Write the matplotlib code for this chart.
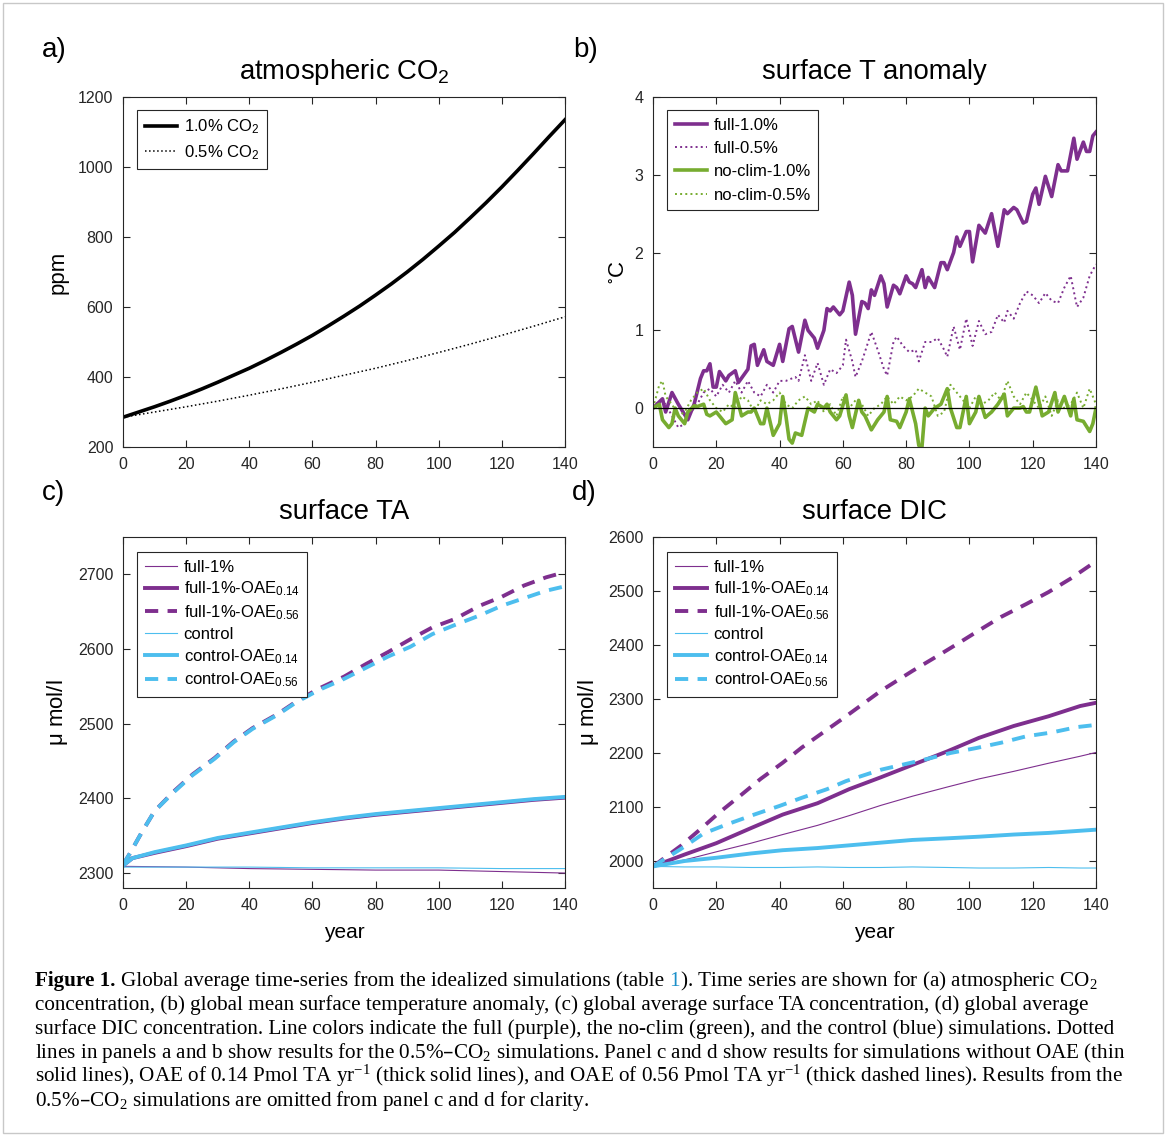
import matplotlib
matplotlib.use("Agg")
import matplotlib.pyplot as plt
from matplotlib.patches import Rectangle

plt.rcParams['font.family'] = ['Liberation Sans', 'DejaVu Sans']
plt.rcParams['mathtext.default'] = 'regular'

purple = '#7E2F8E'
green = '#77AC30'
blue = '#4DBEEE'
axcol = '#262626'

# ---- panel a: atmospheric CO2 (ppm) ----
co2_years = [0, 5, 10, 15, 20, 25, 30, 35, 40, 45, 50, 55, 60, 65, 70, 75, 80, 85, 90, 95,
             100, 105, 110, 115, 120, 125, 130, 135, 140]
co2_1pct = [285, 300, 315, 331, 348, 366, 385, 405, 425, 447, 470, 494, 519, 546, 574, 603,
            634, 666, 700, 736, 774, 813, 855, 898, 943, 990, 1038, 1087, 1135]
co2_half_years = [0, 10, 20, 30, 40, 50, 60, 70, 80, 90, 100, 110, 120, 130, 140]
co2_half = [285, 300, 315, 331, 348, 366, 385, 405, 425, 447, 470, 494, 519, 545, 572]

# ---- panel b: surface T anomaly (year, degC) ----
t_full10 = [(0, 0), (3, 0.12), (4, -0.05), (6, 0.2), (8, 0.05), (11, -0.15), (13, 0.05),
            (15, 0.38), (16, 0.48), (17, 0.48), (18, 0.57), (19, 0.27), (20, 0.27), (21, 0.47),
            (23, 0.35), (24, 0.42), (26, 0.48), (27, 0.33), (30, 0.5), (31, 0.8), (32, 0.82),
            (33, 0.55), (35, 0.75), (36, 0.6), (38, 0.55), (40, 0.82), (41, 0.6), (43, 1.02),
            (44, 1.05), (46, 0.72), (48, 1.13), (49, 1.0), (51, 0.9), (52, 0.77), (54, 1.0),
            (55, 1.28), (56, 1.25), (57, 1.3), (59, 1.2), (60, 1.25), (62, 1.62), (63, 1.45),
            (64, 0.95), (66, 1.37), (67, 1.35), (68, 1.28), (69, 1.52), (70, 1.45), (72, 1.7),
            (73, 1.6), (74, 1.3), (76, 1.58), (77, 1.55), (78, 1.47), (80, 1.7), (81, 1.62),
            (82, 1.6), (83, 1.55), (85, 1.78), (86, 1.55), (87, 1.68), (89, 1.55), (91, 1.87),
            (92, 1.87), (93, 1.78), (95, 2.0), (96, 2.2), (97, 2.08), (99, 2.27), (100, 2.27),
            (101, 1.88), (103, 2.35), (104, 2.3), (105, 2.25), (107, 2.5), (109, 2.08),
            (111, 2.55), (112, 2.5), (114, 2.58), (115, 2.55), (117, 2.38), (118, 2.4),
            (120, 2.75), (121, 2.83), (122, 2.62), (124, 2.98), (126, 2.72), (128, 3.13),
            (129, 3.05), (131, 3.05), (133, 3.47), (134, 3.2), (136, 3.42), (137, 3.3),
            (138, 3.3), (139, 3.5), (140, 3.55)]
t_full05 = [(0, 0), (2, 0.1), (4, 0.05), (6, -0.1), (8, -0.25), (10, -0.2), (12, -0.05),
            (14, 0.05), (16, 0.2), (18, 0.25), (20, 0.15), (22, 0.3), (24, 0.2), (26, 0.35),
            (28, 0.2), (30, 0.35), (32, 0.2), (34, 0.15), (36, 0.3), (38, 0.2), (40, 0.35),
            (42, 0.35), (45, 0.4), (46, 0.35), (48, 0.68), (50, 0.35), (52, 0.58), (54, 0.3),
            (56, 0.5), (58, 0.45), (60, 0.55), (61, 0.88), (63, 0.6), (64, 0.4), (66, 0.6),
            (68, 0.85), (69, 0.98), (71, 0.75), (73, 0.5), (74, 0.42), (76, 0.85), (77, 0.92),
            (79, 0.8), (81, 0.72), (83, 0.75), (84, 0.6), (86, 0.85), (88, 0.85), (90, 0.9),
            (92, 0.75), (93, 0.66), (95, 1.05), (97, 0.75), (99, 1.15), (101, 0.8), (103, 1.12),
            (105, 0.95), (107, 0.98), (109, 1.2), (111, 1.1), (112, 1.25), (114, 1.15),
            (115, 1.25), (116, 1.35), (118, 1.5), (120, 1.45), (122, 1.35), (124, 1.48),
            (126, 1.38), (128, 1.35), (130, 1.55), (132, 1.7), (134, 1.3), (136, 1.42),
            (138, 1.7), (140, 1.85)]
t_noclim10 = [(0, 0), (2, 0.05), (3, -0.15), (5, -0.25), (6, -0.2), (7, 0.0), (8, -0.1),
              (10, -0.2), (11, -0.05), (13, 0.03), (14, 0.02), (16, 0.05), (17, -0.08),
              (18, -0.1), (20, -0.05), (21, -0.1), (23, -0.2), (25, -0.15), (26, 0.2),
              (28, -0.1), (30, -0.05), (31, -0.05), (32, 0.0), (34, -0.2), (35, -0.2),
              (36, 0.0), (38, -0.35), (40, -0.2), (41, 0.15), (42, -0.1), (43, -0.4),
              (44, -0.45), (45, -0.32), (47, -0.35), (49, 0.0), (51, -0.05), (52, 0.05),
              (54, 0.0), (55, 0.05), (56, -0.05), (58, -0.15), (59, -0.1), (61, 0.17),
              (62, -0.1), (63, -0.25), (65, 0.1), (66, -0.05), (67, -0.1), (69, -0.28),
              (71, -0.15), (73, -0.05), (74, 0.15), (75, -0.15), (77, -0.17), (78, -0.25),
              (80, -0.05), (81, 0.12), (83, -0.2), (84, -0.48), (85, -0.5), (86, 0.0),
              (87, -0.1), (89, 0.0), (91, 0.05), (93, 0.25), (94, 0.0), (96, -0.25),
              (97, -0.25), (99, 0.15), (100, -0.2), (102, -0.05), (103, 0.15), (105, -0.12),
              (107, -0.05), (109, 0.05), (111, 0.18), (112, -0.1), (114, 0.0), (116, 0.0),
              (117, 0.02), (118, -0.05), (119, -0.05), (121, 0.27), (123, -0.1), (125, -0.05),
              (127, 0.2), (128, -0.05), (130, 0.15), (132, -0.1), (133, 0.12), (134, -0.15),
              (136, -0.17), (138, -0.3), (139, -0.2), (140, 0.0)]
t_noclim05 = [(0, 0), (2, 0.3), (3, 0.35), (4, 0.15), (6, 0.05), (8, -0.1), (10, -0.05),
              (12, 0.1), (14, 0.2), (16, 0.25), (18, 0.1), (20, 0.0), (22, -0.05), (24, 0.05),
              (26, 0.0), (28, 0.15), (30, 0.1), (32, -0.05), (34, 0.1), (36, 0.05), (38, 0.1),
              (40, 0.2), (42, 0.05), (44, 0.0), (46, 0.1), (48, 0.15), (50, 0.05), (52, 0.1),
              (54, -0.05), (56, 0.05), (58, -0.1), (60, 0.15), (62, 0.0), (64, 0.1), (66, 0.05),
              (68, -0.1), (70, 0.0), (72, 0.05), (74, 0.15), (76, 0.05), (78, 0.15), (80, 0.1),
              (82, 0.15), (84, 0.25), (86, 0.2), (88, 0.15), (90, -0.1), (92, -0.05), (94, 0.3),
              (96, 0.2), (98, 0.1), (100, 0.0), (102, 0.15), (104, 0.05), (106, 0.1), (108, 0.2),
              (110, 0.1), (112, 0.35), (114, 0.15), (116, 0.05), (118, 0.2), (120, 0.1),
              (122, 0.0), (124, 0.15), (126, -0.1), (128, 0.1), (130, 0.0), (132, 0.05),
              (134, 0.2), (136, 0.0), (138, 0.25), (140, 0.05)]

# ---- panel c: surface TA (umol/l) ----
ta_dash_years = [0, 2, 6, 10, 16, 22, 29, 35, 41, 49, 55, 62, 70, 77, 84, 91, 98, 105, 113, 120, 127, 134, 140]
ta_full_056 = [2311, 2325, 2355, 2383, 2409, 2432, 2454, 2476, 2494, 2513, 2530, 2547, 2563,
               2580, 2596, 2613, 2629, 2640, 2658, 2670, 2685, 2696, 2703]
ta_ctrl_056 = [2311, 2325, 2355, 2383, 2408, 2431, 2453, 2475, 2493, 2512, 2529, 2545, 2560,
               2575, 2590, 2603, 2620, 2632, 2645, 2658, 2668, 2678, 2684]
ta_years = [0, 3, 10, 20, 30, 40, 50, 60, 70, 80, 90, 100, 110, 120, 130, 140]
ta_full_014 = [2310, 2320, 2327, 2336, 2346, 2353, 2360, 2367, 2373, 2378, 2382, 2386, 2390, 2394, 2398, 2401]
ta_ctrl_014 = [2310, 2320, 2328, 2337, 2347, 2354, 2361, 2368, 2374, 2379, 2383, 2387, 2391, 2395, 2399, 2402]
ta_thin_years = [0, 20, 40, 60, 80, 100, 120, 140]
ta_full = [2309, 2308, 2306, 2305, 2304, 2304, 2302, 2300]
ta_ctrl = [2308, 2308, 2308, 2307, 2307, 2307, 2306, 2306]

# ---- panel d: surface DIC (umol/l) ----
dic_dash_years = [0, 9, 15, 21, 28, 34, 41, 47, 54, 61, 72, 82, 90, 97, 103, 110, 118, 125, 132, 139, 140]
dic_full_056 = [1990, 2029, 2059, 2090, 2123, 2152, 2182, 2210, 2239, 2268, 2315, 2352, 2380,
                2405, 2427, 2452, 2476, 2498, 2523, 2551, 2556]
dic_ctrl_dash_years = [0, 9, 16, 23, 32, 40, 47, 55, 61, 72, 86, 94, 102, 110, 118, 126, 134, 140]
dic_ctrl_056 = [1990, 2023, 2051, 2067, 2086, 2102, 2117, 2133, 2148, 2169, 2188, 2200, 2209,
                2219, 2231, 2238, 2248, 2252]
dic_years = [0, 10, 20, 31, 41, 52, 62, 72, 82, 93, 103, 114, 125, 135, 140]
dic_full_014 = [1990, 2012, 2033, 2061, 2086, 2107, 2133, 2155, 2178, 2203, 2228, 2250, 2268, 2287, 2293]
dic_full = [1990, 2002, 2017, 2033, 2049, 2066, 2084, 2103, 2120, 2137, 2152, 2166, 2181, 2194, 2201]
dic_ctrl_014 = [1990, 2000, 2006, 2014, 2020, 2024, 2029, 2034, 2039, 2042, 2045, 2049, 2052, 2056, 2058]
dic_ctrl = [1990, 1989, 1989, 1988, 1988, 1989, 1988, 1988, 1989, 1988, 1987, 1987, 1988, 1987, 1987]

fig = plt.figure(figsize=(11.7, 11.35), dpi=100)
W, H = 1170, 1135


def add_ax(l, t, r, b):
    return fig.add_axes([l / W, 1 - b / H, (r - l) / W, (b - t) / H])


def style(ax, ylim, yticks, title, ylabel, ylx):
    ax.set_xlim(0, 140)
    ax.set_xticks(range(0, 141, 20))
    ax.set_ylim(*ylim)
    ax.set_yticks(yticks)
    ax.tick_params(direction='in', top=True, right=True, length=5, width=0.8,
                   labelsize=11.5, colors=axcol, pad=7)
    for s in ax.spines.values():
        s.set_linewidth(0.8)
        s.set_color(axcol)
    ax.set_title(title, fontsize=19.8, pad=13)
    ax.set_ylabel(ylabel, fontsize=16)
    ax.yaxis.set_label_coords(ylx, 0.5)


def legend(ax, dx, dy, spacing):
    w = ax.get_position().width * W
    h = ax.get_position().height * H
    lg = ax.legend(loc='upper left', bbox_to_anchor=(dx / w, 1 - dy / h), borderaxespad=0,
                   fontsize=12, handlelength=1.95, fancybox=False, framealpha=1,
                   edgecolor=axcol, borderpad=0.45, labelspacing=spacing, handletextpad=0.4)
    lg.get_frame().set_linewidth(0.8)


# panel a
ax = add_ax(123, 97, 565, 447)
ax.plot(co2_years, co2_1pct, color='k', lw=2.6, label='1.0% CO$_2$')
ax.plot(co2_half_years, co2_half, color='k', lw=1.1, ls=':', label='0.5% CO$_2$')
style(ax, (200, 1200), range(200, 1201, 200), 'atmospheric CO$_2$', 'ppm', -0.124)
legend(ax, 14, 13, 0.42)

# panel b
ax = add_ax(653, 97, 1096, 447)
for data, col, ls, lw, lab in [(t_full10, purple, '-', 2.6, 'full-1.0%'),
                               (t_full05, purple, ':', 1.4, 'full-0.5%'),
                               (t_noclim10, green, '-', 2.6, 'no-clim-1.0%'),
                               (t_noclim05, green, ':', 1.4, 'no-clim-0.5%')]:
    yr, v = zip(*data)
    ax.plot(yr, v, color=col, ls=ls, lw=lw, label=lab)
ax.axhline(0, color='k', lw=0.9, zorder=3)
style(ax, (-0.5, 4), range(0, 5), 'surface T anomaly', r'$^{\circ}$C', -0.054)
legend(ax, 14, 13, 0.5)

dash = (0, (3.4, 2.4))

# panel c
ax = add_ax(123, 537, 565, 888)
ax.plot(ta_thin_years, ta_full, color=purple, lw=0.8, label='full-1%')
ax.plot(ta_years, ta_full_014, color=purple, lw=2.8, label='full-1%-OAE$_{0.14}$')
ax.plot(ta_dash_years, ta_full_056, color=purple, lw=2.8, ls=dash, label='full-1%-OAE$_{0.56}$')
ax.plot(ta_thin_years, ta_ctrl, color=blue, lw=0.8, label='control')
ax.plot(ta_years, ta_ctrl_014, color=blue, lw=2.8, label='control-OAE$_{0.14}$')
ax.plot(ta_dash_years, ta_ctrl_056, color=blue, lw=2.8, ls=dash, label='control-OAE$_{0.56}$')
style(ax, (2280, 2750), range(2300, 2701, 100), 'surface TA', r'$\mu$ mol/l', -0.12)
ax.set_xlabel('year', fontsize=15)
ax.xaxis.set_label_coords(0.5, -0.1)
legend(ax, 14, 15, 0.3)

# panel d
ax = add_ax(653, 537, 1096, 888)
ax.plot(dic_years, dic_full, color=purple, lw=0.8, label='full-1%')
ax.plot(dic_years, dic_full_014, color=purple, lw=2.8, label='full-1%-OAE$_{0.14}$')
ax.plot(dic_dash_years, dic_full_056, color=purple, lw=2.8, ls=dash, label='full-1%-OAE$_{0.56}$')
ax.plot(dic_years, dic_ctrl, color=blue, lw=0.8, label='control')
ax.plot(dic_years, dic_ctrl_014, color=blue, lw=2.8, label='control-OAE$_{0.14}$')
ax.plot(dic_ctrl_dash_years, dic_ctrl_056, color=blue, lw=2.8, ls=dash, label='control-OAE$_{0.56}$')
style(ax, (1950, 2600), range(2000, 2601, 100), 'surface DIC', r'$\mu$ mol/l', -0.118)
ax.set_xlabel('year', fontsize=15)
ax.xaxis.set_label_coords(0.5, -0.1)
legend(ax, 14, 15, 0.3)

# panel letters
for lab, x, y in [('a)', 42, 50), ('b)', 573, 50), ('c)', 42, 493), ('d)', 572, 493)]:
    fig.text(x / W, 1 - y / H, lab, fontsize=20, va='center', ha='left')

# caption
serif = ['Liberation Serif', 'DejaVu Serif']
cap_fs = 15.2
renderer = fig.canvas.get_renderer()


def width(s, **kw):
    t = fig.text(0, 0, s, fontsize=cap_fs, family=serif, **kw)
    w = t.get_window_extent(renderer).width
    t.remove()
    return w


space = width('x x') - width('xx')


def cap_line(y, runs, x=35):
    for s, gap, kw in runs:
        x += space if gap else 0
        fig.text(x / W, 1 - y / H, s, fontsize=cap_fs, family=serif, va='baseline', ha='left', **kw)
        x += width(s, **kw)


cap_line(986, [('Figure 1.', False, {'weight': 'bold'}),
               ('Global average time-series from the idealized simulations (table', True, {}),
               ('1', True, {'color': '#1a8fc9'}),
               ('). Time series are shown for (a) atmospheric CO$_2$', False, {})])
cap_lines = [
    'concentration, (b) global mean surface temperature anomaly, (c) global average surface TA concentration, (d) global average',
    'surface DIC concentration. Line colors indicate the full (purple), the no-clim (green), and the control (blue) simulations. Dotted',
    'lines in panels a and b show results for the 0.5%–CO$_2$ simulations. Panel c and d show results for simulations without OAE (thin',
    'solid lines), OAE of 0.14 Pmol TA yr$^{-1}$ (thick solid lines), and OAE of 0.56 Pmol TA yr$^{-1}$ (thick dashed lines). Results from the',
    '0.5%–CO$_2$ simulations are omitted from panel c and d for clarity.',
]
for i, s in enumerate(cap_lines):
    cap_line(1010 + 24 * i, [(s, False, {})])

fig.patches.append(Rectangle((3 / W, 2 / H), 1160 / W, 1130 / H, transform=fig.transFigure,
                             fill=False, edgecolor='#c8c8c8', lw=1))

fig.savefig('out.png', dpi=100)
